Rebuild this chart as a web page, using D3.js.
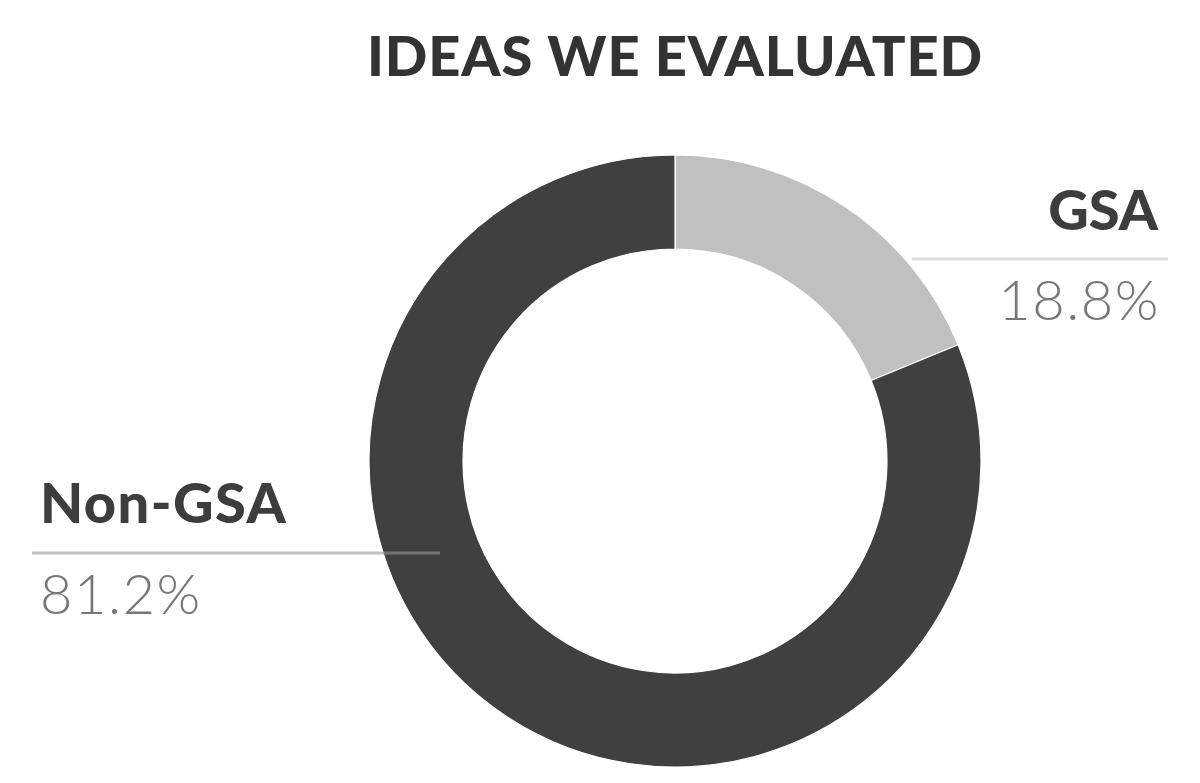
<!DOCTYPE html>
<html><head><meta charset="utf-8">
<script src="https://cdn.jsdelivr.net/npm/d3@7"></script>
<style>html,body{margin:0;padding:0;background:#fff;}svg{display:block;}</style>
</head><body>
<svg id="chart" width="1200" height="783"></svg>
<script>
const title = "IDEAS WE EVALUATED";
const categories = ["GSA", "Non-GSA"];
const values = [18.8, 81.2];
const valueLabels = ["18.8%", "81.2%"];

const W = 1200, H = 783;
const cx = 675, cy = 461, rOuter = 306, rInner = 212;
const svg = d3.select("#chart");
const font = "Lato, 'Source Sans Pro', 'Open Sans', sans-serif";

svg.append("text").attr("x", 675).attr("y", 76).attr("text-anchor", "middle")
  .attr("font-family", font).attr("font-weight", 900).attr("font-size", 56)
  .attr("letter-spacing", 0.9)
  .attr("fill", "#333").text(title);

const color = d3.scaleOrdinal().domain(categories).range(["#c0c0c0", "#404040"]);
const pie = d3.pie().sort(null).value(d => d)(values);
const arc = d3.arc().innerRadius(rInner).outerRadius(rOuter);
const g = svg.append("g").attr("transform", `translate(${cx},${cy})`);
g.selectAll("path").data(pie).join("path")
  .attr("d", arc).attr("fill", (d, i) => color(categories[i]))
  .attr("stroke", "#fff").attr("stroke-width", 1.2);

// GSA (right)
svg.append("line").attr("x1", 912).attr("x2", 1168).attr("y1", 259).attr("y2", 259)
  .attr("stroke", "#dcdcdc").attr("stroke-width", 3);
svg.append("text").attr("x", 1158).attr("y", 230).attr("text-anchor", "end")
  .attr("font-family", font).attr("font-weight", 900).attr("font-size", 56)
  .attr("fill", "#3d3d3d").text(categories[0]);
svg.append("text").attr("x", 1160).attr("y", 320).attr("text-anchor", "end")
  .attr("font-family", font).attr("font-weight", 300).attr("font-size", 56)
  .attr("letter-spacing", 1.5)
  .attr("fill", "#777").text(valueLabels[0]);

// Non-GSA (left)
svg.append("line").attr("x1", 32).attr("x2", 440).attr("y1", 553).attr("y2", 553)
  .attr("stroke", "rgba(150,150,150,0.6)").attr("stroke-width", 3);
svg.append("text").attr("x", 40).attr("y", 523).attr("text-anchor", "start")
  .attr("font-family", font).attr("font-weight", 900).attr("font-size", 56)
  .attr("letter-spacing", 1.4)
  .attr("fill", "#3d3d3d").text(categories[1]);
svg.append("text").attr("x", 40).attr("y", 614).attr("text-anchor", "start")
  .attr("font-family", font).attr("font-weight", 300).attr("font-size", 56)
  .attr("letter-spacing", 1.5)
  .attr("fill", "#777").text(valueLabels[1]);
</script>
</body></html>
